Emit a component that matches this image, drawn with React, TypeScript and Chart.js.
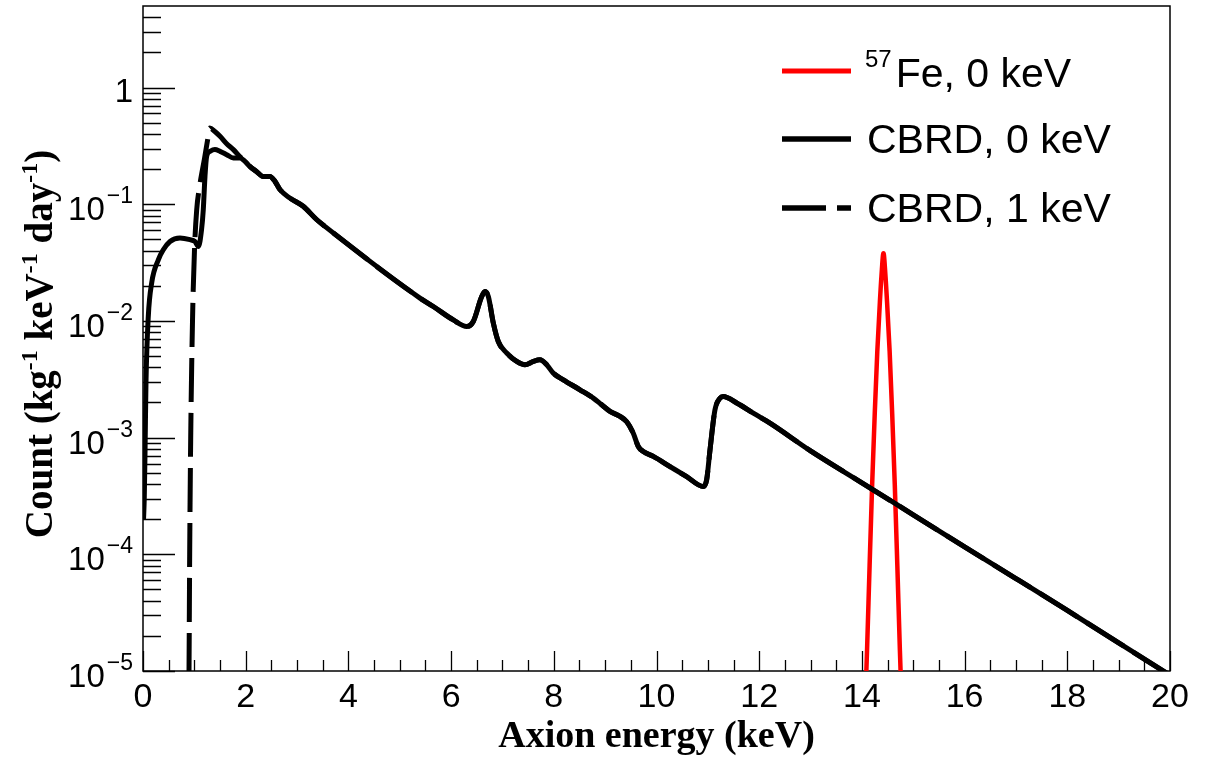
import React, { useEffect, useRef } from "react";
import { Chart, registerables } from "chart.js";

Chart.register(...registerables);

// ---------- data ----------
const cbrd0X = [
  0.01, 0.025, 0.04, 0.058, 0.103, 0.17, 0.3, 0.395, 0.526, 0.72, 0.915, 1.01, 1.08, 1.14, 1.174,
  1.207, 1.24, 1.305, 1.4, 1.5, 1.63, 1.76, 1.89, 1.986, 2.08, 2.21, 2.34, 2.47, 2.57, 2.67, 2.86,
  3.12, 3.38, 3.58, 5.394, 5.653, 6.043, 6.304, 6.432, 6.596, 6.66, 6.725, 6.822, 6.919, 7.083,
  7.278, 7.439, 7.601, 7.731, 7.862, 7.99, 8.185, 8.51, 8.769, 8.933, 9.094, 9.289, 9.42, 9.548,
  9.645, 9.743, 9.938, 10.263, 10.588, 10.911, 10.977, 11.042, 11.139, 11.237, 11.3, 11.562,
  11.885, 12.21, 13, 14, 15, 16, 17, 18, 19, 20,
];
const cbrd0Y = [
  1.97e-4, 3.1e-4, 7.8e-4, 2.95e-3, 0.0109, 0.0213, 0.0335, 0.0407, 0.048, 0.0514, 0.0497, 0.048,
  0.0435, 0.0605, 0.09, 0.173, 0.258, 0.284, 0.294, 0.284, 0.266, 0.249, 0.249, 0.233, 0.211, 0.191,
  0.173, 0.173, 0.157, 0.133, 0.113, 0.096, 0.074, 0.0627, 0.0157, 0.0133, 0.0102, 0.00897, 0.0099,
  0.0162, 0.0179, 0.0162, 0.0096, 0.00667, 0.00531, 0.0045, 0.00421, 0.0045, 0.00464, 0.00421,
  0.00357, 0.00313, 0.00257, 0.00218, 0.00191, 0.00168, 0.00152, 0.00137, 0.00109, 0.00084,
  0.00076, 0.00069, 0.000565, 0.000463, 0.000381, 0.000435, 0.000785, 0.00173, 0.00218, 0.00225,
  0.00198, 0.00162, 0.00133, 7.7e-4, 4.1e-4, 2.18e-4, 1.16e-4, 6.2e-5, 3.3e-5, 1.74e-5, 9.2e-6,
];

// CBRD with 1 keV threshold: own low-energy part, then it follows the 0 keV curve
const cbrd1LowX = [0.88, 0.896, 0.909, 0.929, 0.964, 1.003, 1.046, 1.1, 1.2, 1.26, 1.3, 1.4, 1.5, 1.63, 1.76, 1.89];
const cbrd1LowY = [3e-6, 1e-5, 1e-4, 1e-3, 1e-2, 0.041, 0.09, 0.14, 0.25, 0.36, 0.45, 0.42, 0.382, 0.33, 0.294, 0.255];
const cbrd1JoinX = 1.95;

const feX = [14.07, 14.1, 14.15, 14.2, 14.25, 14.3, 14.35, 14.38, 14.42, 14.46, 14.49, 14.54, 14.59, 14.64, 14.69, 14.74, 14.77];
const feY = [6e-6, 1.5e-5, 8e-5, 4e-4, 1.6e-3, 5.5e-3, 0.0145, 0.024, 0.038, 0.024, 0.0145, 5.5e-3, 1.6e-3, 4e-4, 8e-5, 1.5e-5, 6e-6];

const xMajorTicks = [0, 2, 4, 6, 8, 10, 12, 14, 16, 18, 20];
const xMinorStep = 0.5;
const yDecadeExponents = [0, -1, -2, -3, -4, -5];
const yMinorMultipliers = [2, 3, 4, 5, 6, 7, 8, 9];

const legendLabels = ["Fe, 0 keV", "CBRD, 0 keV", "CBRD, 1 keV"];
const legendIsotope = "57";
const xTitle = "Axion energy (keV)";

const X_MIN = 0;
const X_MAX = 20;
const Y_MIN = 1e-5;
const Y_MAX = 5;

const SANS = "'Liberation Sans', Arial, sans-serif";
const SERIF = "'Liberation Serif', 'Times New Roman', serif";
const DASH = [44, 11];

const toPts = (xs: number[], ys: number[]) => xs.map((x, i) => ({ x, y: ys[i] }));

const rootPlugin = {
  id: "rootStyle",
  beforeDatasetsDraw(chart: any) {
    const { ctx, chartArea: a, scales } = chart;
    const xs = scales.x;
    const ys = scales.y;
    ctx.save();
    ctx.strokeStyle = "#000";
    ctx.lineWidth = 1.5;
    ctx.strokeRect(a.left, a.top, a.right - a.left, a.bottom - a.top);
    ctx.lineWidth = 1.3;
    ctx.beginPath();
    // x ticks (inward from bottom)
    for (let v = X_MIN; v <= X_MAX + 1e-9; v += xMinorStep) {
      const px = Math.round(xs.getPixelForValue(v)) + 0.5;
      const major = xMajorTicks.some((t) => Math.abs(t - v) < 1e-6);
      const len = major ? 20 : 11;
      ctx.moveTo(px, a.bottom);
      ctx.lineTo(px, a.bottom - len);
    }
    // y ticks (inward from left)
    for (const e of yDecadeExponents) {
      const base = Math.pow(10, e);
      const py = Math.round(ys.getPixelForValue(base)) + 0.5;
      ctx.moveTo(a.left, py);
      ctx.lineTo(a.left + 32, py);
      for (const m of yMinorMultipliers) {
        const v = m * base;
        if (v > Y_MAX) break;
        const pm = Math.round(ys.getPixelForValue(v)) + 0.5;
        if (pm < a.top + 1) continue;
        ctx.moveTo(a.left, pm);
        ctx.lineTo(a.left + 18, pm);
      }
    }
    ctx.stroke();
    ctx.restore();
  },
  afterDraw(chart: any) {
    const { ctx, chartArea: a, scales } = chart;
    const xs = scales.x;
    const ys = scales.y;
    ctx.save();
    ctx.fillStyle = "#000";
    // x tick labels
    ctx.font = `34px ${SANS}`;
    ctx.textAlign = "center";
    ctx.textBaseline = "alphabetic";
    for (const t of xMajorTicks) {
      ctx.fillText(String(t), xs.getPixelForValue(t), a.bottom + 36);
    }
    // y tick labels
    const rightX = a.left - 10;
    for (const e of yDecadeExponents) {
      const py = ys.getPixelForValue(Math.pow(10, e));
      ctx.textAlign = "right";
      if (e === 0) {
        ctx.font = `33px ${SANS}`;
        ctx.fillText("1", rightX, py + 14);
      } else {
        const sup = "\u2212" + String(-e);
        ctx.font = `23px ${SANS}`;
        const sw = ctx.measureText(sup).width;
        ctx.fillText(sup, rightX, py - 1);
        ctx.font = `33px ${SANS}`;
        ctx.fillText("10", rightX - sw - 2, py + 16);
      }
    }
    // x title
    ctx.font = `bold 38px ${SERIF}`;
    ctx.textAlign = "center";
    ctx.fillText(xTitle, (a.left + a.right) / 2, a.bottom + 76);

    // y title (rotated) with superscripts
    const parts: Array<[string, boolean]> = [
      ["Count (kg", false],
      ["-1", true],
      [" keV", false],
      ["-1", true],
      [" day", false],
      ["-1", true],
      [")", false],
    ];
    const mainFont = `bold 39px ${SERIF}`;
    const supFont = `bold 24px ${SERIF}`;
    let total = 0;
    const widths: number[] = [];
    for (const [txt, sup] of parts) {
      ctx.font = sup ? supFont : mainFont;
      const w = ctx.measureText(txt).width;
      widths.push(w);
      total += w;
    }
    ctx.save();
    ctx.translate(52, 344);
    ctx.rotate(-Math.PI / 2);
    ctx.textAlign = "left";
    let cx = -total / 2;
    parts.forEach(([txt, sup], i) => {
      ctx.font = sup ? supFont : mainFont;
      ctx.fillText(txt, cx, sup ? -15 : 0);
      cx += widths[i];
    });
    ctx.restore();

    // legend
    const rows = [71, 139, 208];
    const lx0 = 782;
    const lx1 = 851;
    const colors = ["#ff0000", "#000000", "#000000"];
    rows.forEach((y, i) => {
      ctx.save();
      ctx.strokeStyle = colors[i];
      ctx.lineWidth = i === 0 ? 5 : 5.5;
      ctx.lineCap = "butt";
      if (i === 2) ctx.setLineDash(DASH);
      ctx.beginPath();
      ctx.moveTo(lx0, y);
      ctx.lineTo(lx1, y);
      ctx.stroke();
      ctx.restore();
    });
    ctx.textAlign = "left";
    ctx.fillStyle = "#000";
    // row 1 with isotope superscript
    ctx.font = `24px ${SANS}`;
    const isoW = ctx.measureText(legendIsotope).width;
    ctx.fillText(legendIsotope, 865, rows[0] - 4);
    ctx.font = `41px ${SANS}`;
    ctx.fillText(legendLabels[0], 865 + isoW + 4, rows[0] + 16);
    ctx.fillText(legendLabels[1], 867, rows[1] + 14);
    ctx.fillText(legendLabels[2], 867, rows[2] + 14);
    ctx.restore();
  },
};

export default function App() {
  const canvasRef = useRef<HTMLCanvasElement | null>(null);

  useEffect(() => {
    const canvas = canvasRef.current;
    if (!canvas) return;
    const tailStart = cbrd0X.findIndex((x) => x >= cbrd1JoinX);
    const cbrd1X = cbrd1LowX.concat(cbrd0X.slice(tailStart));
    const cbrd1Y = cbrd1LowY.concat(cbrd0Y.slice(tailStart));

    const chart = new Chart(canvas, {
      type: "line",
      data: {
        datasets: [
          {
            label: "57Fe, 0 keV",
            data: toPts(feX, feY),
            borderColor: "#ff0000",
            borderWidth: 4.5,
            pointRadius: 0,
            tension: 0,
            cubicInterpolationMode: "monotone",
            fill: false,
            order: 3,
          },
          {
            label: "CBRD, 0 keV",
            data: toPts(cbrd0X, cbrd0Y),
            borderColor: "#000000",
            borderWidth: 5,
            pointRadius: 0,
            cubicInterpolationMode: "monotone",
            fill: false,
            order: 1,
          },
          {
            label: "CBRD, 1 keV",
            data: toPts(cbrd1X, cbrd1Y),
            borderColor: "#000000",
            borderWidth: 5,
            borderDash: DASH,
            borderCapStyle: "butt",
            pointRadius: 0,
            cubicInterpolationMode: "monotone",
            fill: false,
            order: 2,
          },
        ],
      },
      options: {
        responsive: false,
        animation: false,
        devicePixelRatio: 1,
        layout: { padding: { left: 143, right: 36, top: 6, bottom: 87 } },
        plugins: {
          legend: { display: false },
          tooltip: { enabled: false },
        },
        scales: {
          x: { type: "linear", min: X_MIN, max: X_MAX, display: false },
          y: { type: "logarithmic", min: Y_MIN, max: Y_MAX, display: false },
        },
      },
      plugins: [rootPlugin],
    } as any);
    return () => chart.destroy();
  }, []);

  return (
    <div style={{ position: "fixed", left: 0, top: 0, width: 1206, height: 758, background: "#fff" }}>
      <canvas ref={canvasRef} width={1206} height={758} />
    </div>
  );
}
